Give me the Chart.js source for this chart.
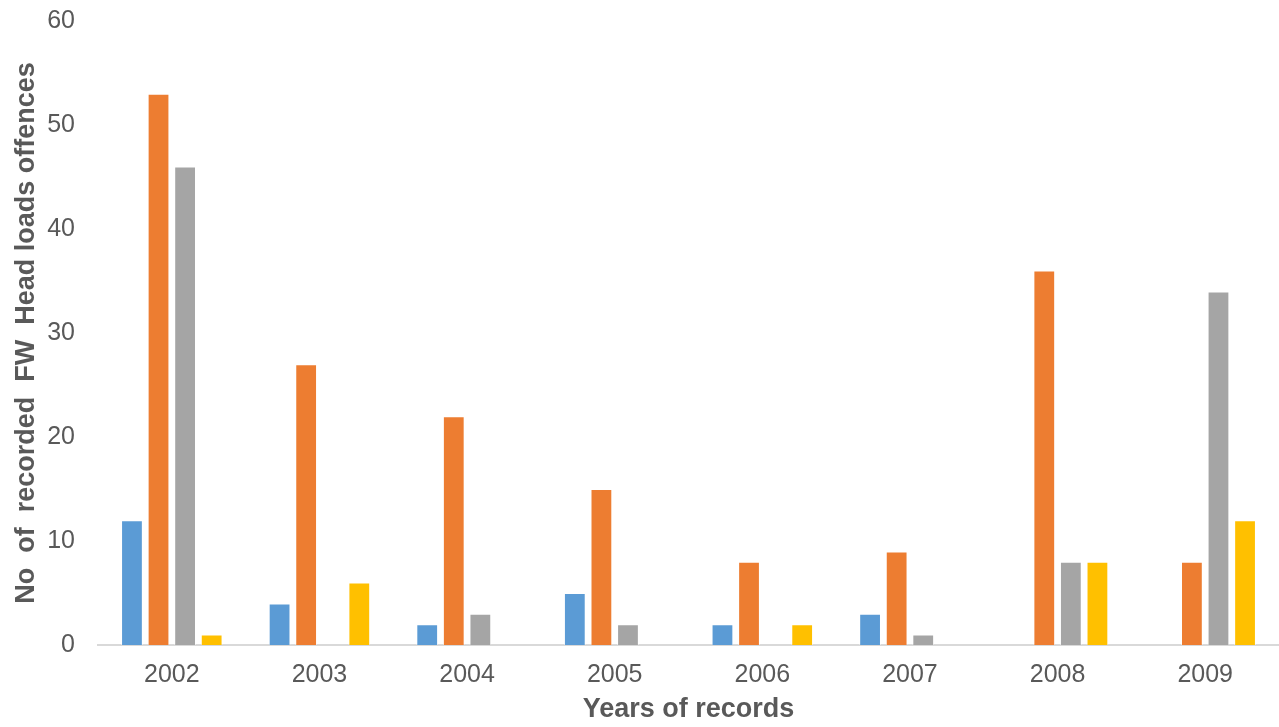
<!DOCTYPE html>
<html lang="en">
<head>
    <meta charset="UTF-8" />
    <title>Recorded FW head loads offences</title>
    <script src="https://cdn.jsdelivr.net/npm/chart.js"></script>
    <style>
        html, body {
            margin: 0;
            padding: 0;
            background: #ffffff;
        }
        #wrap {
            width: 1279px;
            height: 727px;
        }
    </style>
</head>
<body>
<div id="wrap">
    <canvas id="offences"></canvas>
</div>

<script>
const years = ['2002', '2003', '2004', '2005', '2006', '2007', '2008', '2009'];

// four series per year
const seriesA = [12, 4, 2, 5, 2, 3, 0, 0];
const seriesB = [53, 27, 22, 15, 8, 9, 36, 8];
const seriesC = [46, 0, 3, 2, 0, 1, 8, 34];
const seriesD = [1, 6, 0, 0, 2, 0, 8, 12];

const yTicks = [0, 10, 20, 30, 40, 50, 60];

const textColor = '#595959';
const fontFamily = 'Arial, "Liberation Sans", sans-serif';

function makeSet(data, color) {
    return {
        data: data,
        backgroundColor: color,
        borderColor: 'rgba(255,255,255,0.5)',
        borderWidth: 1,
        categoryPercentage: 0.72,
        barPercentage: 0.82
    };
}

const ctx = document.getElementById('offences').getContext('2d');
new Chart(ctx, {
    type: 'bar',
    data: {
        labels: years,
        datasets: [
            makeSet(seriesA, '#5B9BD5'),
            makeSet(seriesB, '#ED7D31'),
            makeSet(seriesC, '#A5A5A5'),
            makeSet(seriesD, '#FFC000')
        ]
    },
    options: {
        responsive: true,
        maintainAspectRatio: false,
        animation: false,
        layout: { padding: { top: 21, right: 0, bottom: 0, left: 0 } },
        plugins: {
            legend: { display: false },
            tooltip: { enabled: false }
        },
        scales: {
            x: {
                grid: { display: false, drawTicks: false },
                border: { display: true, color: '#d9d9d9', width: 2 },
                ticks: {
                    color: textColor,
                    font: { family: fontFamily, size: 25 },
                    padding: 15
                },
                title: {
                    display: true,
                    text: 'Years of records',
                    color: textColor,
                    font: { family: fontFamily, size: 27, weight: 'bold' },
                    padding: { top: 0, bottom: 1 }
                },
                afterFit: s => { s.height = 82; }
            },
            y: {
                min: 0,
                max: 60,
                afterBuildTicks: s => { s.ticks = yTicks.map(v => ({ value: v })); },
                grid: { display: false, drawTicks: false },
                border: { display: false },
                ticks: {
                    color: textColor,
                    font: { family: fontFamily, size: 25 },
                    padding: 23
                },
                title: {
                    display: true,
                    text: 'No  of  recorded  FW  Head loads offences',
                    color: textColor,
                    font: { family: fontFamily, size: 27, weight: 'bold' },
                    padding: { top: 10, bottom: 0 }
                },
                afterFit: s => {
                    s.width = 98;
                    // let the top label overhang instead of pushing the plot down
                    s.paddingTop = 0;
                    s.paddingBottom = 0;
                }
            }
        }
    }
});
</script>
</body>
</html>
